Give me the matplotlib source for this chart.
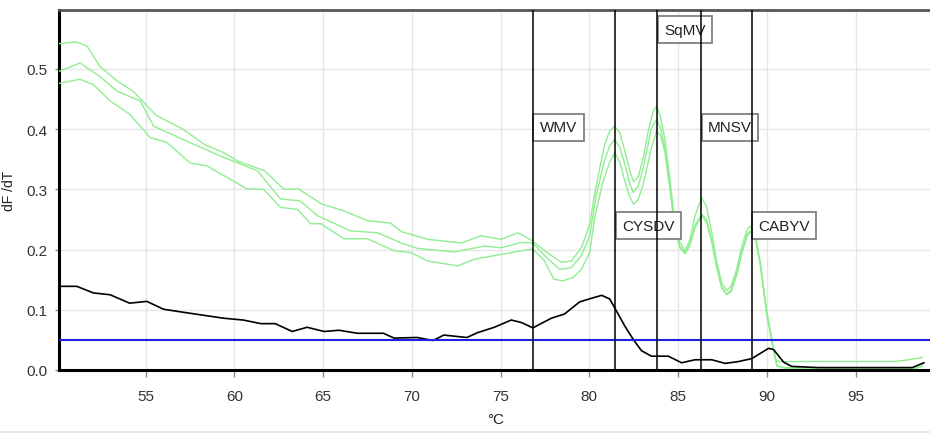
import matplotlib
matplotlib.use("Agg")
import matplotlib.pyplot as plt
from matplotlib.lines import Line2D

plt.rcParams['font.family'] = ['Liberation Sans', 'DejaVu Sans']

# green melting curves (three replicates)
t_top = [50.12, 51.1, 51.7, 52.4, 53.4, 54.3, 55.1, 55.6, 57.1, 58.3, 59.4, 60.2,
         61.7, 62.8, 63.6, 64.9, 66.2, 67.5, 68.8, 69.4, 70.9, 72.8, 73.9, 75.03,
         75.98, 76.82, 77.48, 78.42, 78.99, 79.55, 80.02, 80.3, 80.59, 80.87, 81.15,
         81.43, 81.72, 82.0, 82.28, 82.5, 82.75, 83.04, 83.32, 83.6, 83.79, 84.0,
         84.26, 84.54, 84.82, 85.1, 85.39, 85.67, 85.95, 86.33, 86.6, 86.9, 87.18,
         87.46, 87.74, 88.0, 88.3, 88.6, 88.9, 89.06, 89.34, 89.63, 90.0, 90.29,
         90.47, 90.67, 91.4, 97.2, 98.0, 98.76]
v_top = [0.542, 0.545, 0.538, 0.505, 0.480, 0.463, 0.438, 0.423, 0.400, 0.375, 0.361, 0.347,
         0.331, 0.300, 0.301, 0.276, 0.264, 0.248, 0.244, 0.230, 0.217, 0.211, 0.223, 0.217,
         0.228, 0.214, 0.198, 0.179, 0.181, 0.203, 0.242, 0.292, 0.336, 0.375, 0.397,
         0.405, 0.394, 0.364, 0.331, 0.313, 0.320, 0.353, 0.397, 0.430, 0.438, 0.422,
         0.383, 0.317, 0.245, 0.212, 0.198, 0.217, 0.256, 0.286, 0.272, 0.228, 0.179,
         0.145, 0.132, 0.140, 0.167, 0.206, 0.234, 0.239, 0.228, 0.179, 0.096, 0.051,
         0.018, 0.014, 0.014, 0.014, 0.017, 0.021]

t_mid = [50.12, 51.3, 52.4, 53.4, 54.7, 55.45, 57.1, 59.4, 61.3, 62.6, 63.7, 64.7,
         66.56, 68.07, 69.4, 70.3, 72.4, 74.1, 75.03, 76.16, 76.82, 77.48, 78.33, 78.99,
         79.55, 80.02, 80.4, 80.87, 81.15, 81.43, 81.72, 82.0, 82.25, 82.47, 82.75,
         83.04, 83.5, 83.79, 84.0, 84.26, 84.54, 84.82, 85.1, 85.39, 85.67, 85.95,
         86.33, 86.6, 86.9, 87.18, 87.46, 87.74, 88.0, 88.3, 88.6, 88.9, 89.06, 89.34,
         89.63, 90.0, 90.29, 90.57, 91.0, 98.4, 98.8]
v_mid = [0.496, 0.510, 0.488, 0.463, 0.447, 0.405, 0.383, 0.353, 0.331, 0.284, 0.281, 0.256,
         0.231, 0.228, 0.211, 0.202, 0.196, 0.206, 0.203, 0.212, 0.211, 0.190, 0.167, 0.170,
         0.190, 0.223, 0.292, 0.350, 0.372, 0.383, 0.370, 0.342, 0.312, 0.295, 0.305,
         0.336, 0.402, 0.416, 0.403, 0.370, 0.305, 0.238, 0.205, 0.195, 0.210, 0.240,
         0.259, 0.250, 0.215, 0.172, 0.138, 0.126, 0.133, 0.160, 0.198, 0.226, 0.231, 0.222,
         0.177, 0.094, 0.048, 0.007, 0.004, 0.003, 0.007]

t_low = [50.12, 51.3, 52.06, 53.0, 54.1, 55.26, 56.2, 57.5, 58.46, 60.7, 61.66, 62.6,
         63.55, 64.3, 64.86, 66.18, 67.5, 69.0, 69.95, 70.9, 72.6, 73.5, 75.03, 76.16,
         76.82, 77.48, 78.0, 78.5, 79.1, 79.55, 80.02, 80.3, 80.78, 81.15, 81.43, 81.72,
         82.0, 82.25, 82.5, 82.75, 83.04, 83.5, 83.79, 84.0, 84.26, 84.54, 84.82, 85.1,
         85.39, 85.67, 85.95, 86.33, 86.6, 86.9, 87.18, 87.46, 87.74, 88.0, 88.3, 88.6,
         88.9, 89.06, 89.34, 89.63, 90.0, 90.29, 90.57, 91.0, 98.4, 98.7]
v_low = [0.476, 0.483, 0.474, 0.447, 0.425, 0.386, 0.378, 0.344, 0.339, 0.301, 0.300, 0.270,
         0.267, 0.243, 0.243, 0.218, 0.218, 0.198, 0.195, 0.181, 0.173, 0.184, 0.192, 0.198,
         0.201, 0.181, 0.151, 0.148, 0.154, 0.167, 0.195, 0.253, 0.314, 0.345, 0.361, 0.345,
         0.314, 0.290, 0.275, 0.283, 0.308, 0.369, 0.397, 0.390, 0.362, 0.300, 0.235, 0.203,
         0.193, 0.207, 0.236, 0.256, 0.246, 0.212, 0.170, 0.136, 0.125, 0.131, 0.157, 0.195,
         0.223, 0.229, 0.220, 0.175, 0.092, 0.046, 0.007, 0.003, 0.003, 0.006]

# black control curve
t_ctrl = [50.12, 51.12, 52.06, 53.0, 54.1, 55.07, 56.0, 57.1, 59.4, 60.5, 61.5, 62.3,
          63.26, 64.1, 65.05, 65.9, 66.94, 68.4, 69.0, 70.3, 71.2, 71.8, 73.1, 73.7,
          74.65, 75.6, 76.16, 76.82, 77.86, 78.6, 79.45, 80.1, 80.7, 81.15, 81.53, 82.0,
          82.47, 82.94, 83.5, 84.45, 85.2, 85.95, 86.9, 87.65, 88.4, 89.16, 90.1, 90.38,
          90.95, 91.4, 92.9, 98.2, 98.85]
v_ctrl = [0.139, 0.139, 0.128, 0.125, 0.111, 0.114, 0.101, 0.096, 0.086, 0.083, 0.077, 0.077,
          0.064, 0.071, 0.064, 0.066, 0.061, 0.061, 0.053, 0.054, 0.049, 0.058, 0.054, 0.062,
          0.071, 0.083, 0.079, 0.070, 0.086, 0.093, 0.113, 0.119, 0.124, 0.118, 0.098, 0.073,
          0.051, 0.032, 0.023, 0.023, 0.012, 0.017, 0.017, 0.011, 0.014, 0.019, 0.036, 0.034,
          0.013, 0.006, 0.004, 0.004, 0.012]

threshold = 0.05

# virus peak markers
marker_names = ["WMV", "CYSDV", "SqMV", "MNSV", "CABYV"]
marker_temps = [76.82, 81.46, 83.81, 86.29, 89.14]
label_levels = [0.403, 0.240, 0.565, 0.403, 0.240]

x_ticks = [55, 60, 65, 70, 75, 80, 85, 90, 95]
y_ticks = [0.0, 0.1, 0.2, 0.3, 0.4, 0.5]

fig = plt.figure(figsize=(9.3, 4.35), dpi=100)
ax = fig.add_axes([59 / 930, 1 - 371 / 435, 1 - 59 / 930 + 0.002, (371 - 11) / 435])

green = "#90ee90"
ax.plot(t_top, v_top, color=green, lw=1.0, zorder=3)
ax.plot(t_mid, v_mid, color=green, lw=1.0, zorder=3)
ax.plot(t_low, v_low, color=green, lw=1.0, zorder=3)
ax.plot(t_ctrl, v_ctrl, color="black", lw=1.2, zorder=4)
ax.axhline(threshold, color="#2020e0", lw=1.5, zorder=4)

for name, t, lv in zip(marker_names, marker_temps, label_levels):
    ax.axvline(t, color="black", lw=1.1, zorder=6)
    ax.annotate(name, xy=(t, lv), xytext=(7, 0), textcoords="offset pixels",
                ha="left", va="center", fontsize=11, color="#222222", zorder=5,
                bbox=dict(boxstyle="square,pad=0.42", fc="white", ec="#808080", lw=1.3))

ax.set_xlim(50.12, 99.3)
ax.set_ylim(0, 0.598)
ax.set_xticks(x_ticks)
ax.set_yticks(y_ticks)
ax.set_yticklabels([f"{v:.1f}" for v in y_ticks])
ax.grid(True, color="#e6e6e6", lw=1.0, zorder=0)
ax.set_axisbelow(True)

ax.tick_params(axis="x", length=5, width=1, color="#888888", labelsize=11,
               labelcolor="#333333", pad=9)
ax.tick_params(axis="y", length=3, width=1, color="#888888", labelsize=11,
               labelcolor="#333333", pad=5)

for side in ["left", "bottom"]:
    ax.spines[side].set_linewidth(2.2)
    ax.spines[side].set_color("black")
ax.spines["top"].set_linewidth(2)
ax.spines["top"].set_color("#555555")
ax.spines["right"].set_visible(False)

ax.set_xlabel("°C", fontsize=11, color="#222222", labelpad=6)
ax.set_ylabel("dF /dT", fontsize=10, color="#222222", labelpad=8)

fig.add_artist(Line2D([0, 1], [2 / 435, 2 / 435], color="#e8e8e8", lw=1.5))

fig.savefig("out.png", dpi=100)
